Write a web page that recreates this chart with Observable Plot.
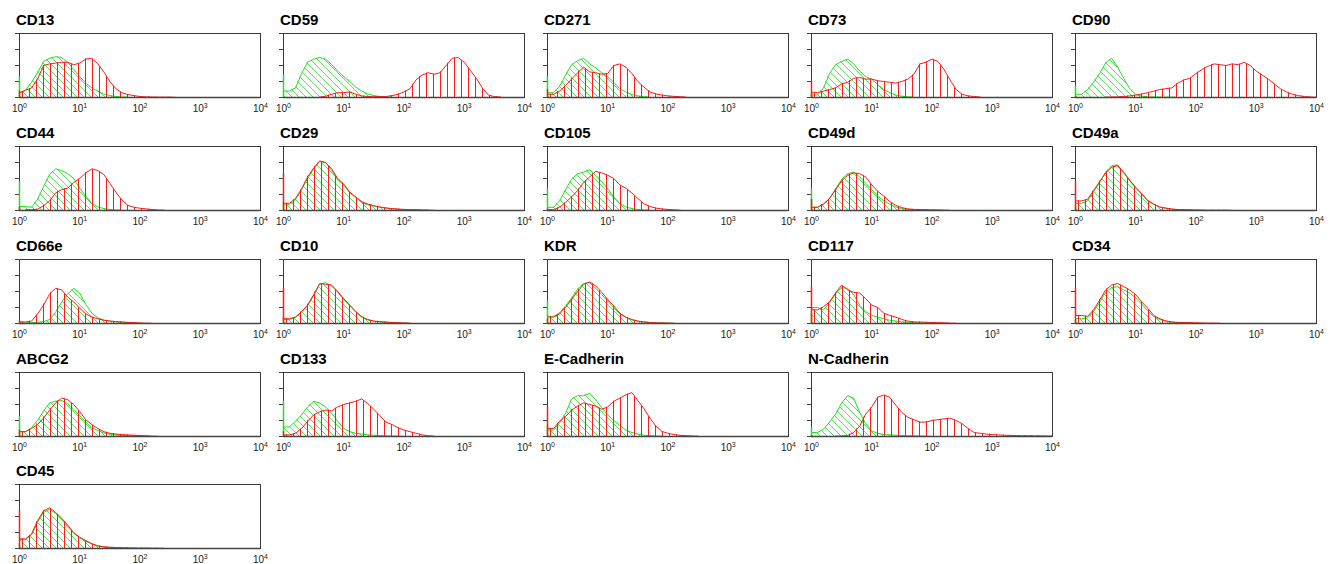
<!DOCTYPE html>
<html><head><meta charset="utf-8">
<script src="https://cdn.jsdelivr.net/npm/d3@7"></script>
<script src="https://cdn.jsdelivr.net/npm/@observablehq/plot@0.6"></script>
<style>
body{margin:0;background:#fff;}
#chart{position:relative;width:1338px;height:564px;overflow:hidden;font-family:"Liberation Sans",Arial,Helvetica,sans-serif;}
.title{position:absolute;font-weight:bold;font-size:15px;line-height:normal;color:#000;white-space:nowrap;}
.panel{position:absolute;}
</style></head><body><div id="chart"></div>
<script>
// Panel grid (categories, as laid out in the figure)
const grid = [
  ["CD13","CD59","CD271","CD73","CD90"],
  ["CD44","CD29","CD105","CD49d","CD49a"],
  ["CD66e","CD10","KDR","CD117","CD34"],
  ["ABCG2","CD133","E-Cadherin","N-Cadherin"],
  ["CD45"]
];
// log10 fluorescence bins (10^0 .. 10^4)
const logBins = [0,0.1,0.2,0.3,0.4,0.5,0.6,0.7,0.8,0.9,1,1.1,1.2,1.3,1.4,1.5,1.6,1.7,1.8,1.9,2,2.1,2.2,2.3,2.4,2.5,2.6,2.7,2.8,2.9,3,3.1,3.2,3.3,3.4,3.5,3.6,3.7,3.8,3.9,4];
const tickValues = [1,10,100,1000,10000];
const tickExponents = ["0","1","2","3","4"];

// counts at the first channel (left-edge spike), in y-tick units
const isotypeEdge = [1.3,1.4,1.3,0.2,0.7, 1.8,0.5,1.35,1.35,0.3, 0.05,0.4,1.4,0.6,0.2, 1.25,2.2,0.7,0.55, 0.3];
const stainedEdge = [0.4,0,0.5,1.0,0.05, 0.2,2.3,0.1,0.7,1.8, 0.2,2.2,0.3,2.3,2.2, 0.4,0.3,1.8,0.05, 2.35];

// isotype control (green) and antibody (red) histograms, y-tick units, per log bin
const iso_CD13 = [0.3,0.45,0.95,1.55,2.25,2.45,2.55,2.5,2.2,1.75,1.3,0.9,0.6,0.4,0.22,0.12,0.06,0.03,0.02];
const ab_CD13  = [0.3,0.45,0.6,1.15,2.0,2.1,2.15,2.2,2.2,2.05,2.15,2.4,2.45,2.1,1.6,1.0,0.55,0.3,0.18,0.12,0.06,0.04,0.03,0.02,0.02,0.02,0.01];
const iso_CD59 = [0.4,0.4,0.6,1.5,2.2,2.4,2.5,2.4,2.05,1.65,1.3,1.0,0.65,0.4,0.22,0.12,0.06,0.03,0.02];
const ab_CD59  = [0,0,0,0,0,0,0.02,0.08,0.2,0.3,0.3,0.35,0.2,0.1,0.06,0.05,0.06,0.06,0.12,0.2,0.35,0.55,1.1,1.4,1.55,1.45,1.55,2.0,2.45,2.5,2.2,1.7,1.2,0.6,0.15,0.06,0.03];
const iso_CD271 = [0.3,0.3,0.7,1.4,2.05,2.3,2.45,2.1,1.85,1.55,1.3,0.95,0.55,0.35,0.18,0.1,0.05,0.02];
const ab_CD271  = [0.2,0.2,0.4,0.75,1.15,1.55,1.9,1.6,1.55,1.45,1.5,2.0,2.1,1.9,1.5,1.0,0.65,0.35,0.22,0.15,0.1,0.07,0.05,0.02];
const iso_CD73 = [0.15,0.15,0.6,1.5,2.05,2.25,2.4,2.1,1.65,1.3,1.15,0.8,0.5,0.3,0.15,0.08,0.04,0.02];
const ab_CD73  = [0.3,0.3,0.4,0.5,0.6,0.85,0.95,1.2,1.25,1.15,1.15,1.05,1.0,0.95,0.9,1.0,1.15,1.45,2.1,2.2,2.4,2.25,1.75,1.1,0.5,0.2,0.1,0.06,0.03];
const iso_CD90 = [0.2,0.2,0.5,0.95,1.5,2.15,2.45,1.9,1.2,0.55,0.2,0.08,0.04,0.03,0.02,0.02,0.02,0.01];
const ab_CD90  = [0,0,0,0,0,0.02,0.03,0.04,0.06,0.1,0.15,0.22,0.3,0.4,0.5,0.55,0.6,0.9,1.1,1.2,1.5,1.75,1.95,2.1,2.05,2.0,2.1,2.05,2.2,2.0,1.65,1.4,1.15,0.85,0.55,0.35,0.2,0.12,0.06,0.03,0.02];
const iso_CD44 = [0.25,0.25,0.2,0.7,1.5,2.25,2.6,2.5,2.3,2.0,1.4,0.9,0.45,0.22,0.12,0.06,0.03,0.02];
const ab_CD44  = [0,0.05,0.05,0.08,0.3,0.6,1.1,1.3,1.4,1.75,2.0,2.35,2.6,2.5,2.25,1.7,1.15,0.65,0.32,0.2,0.14,0.1,0.06,0.03,0.02];
const iso_CD29 = [0.35,0.35,0.7,1.3,2.0,2.6,3.05,3.0,2.5,1.9,1.6,1.1,0.8,0.5,0.35,0.28,0.2,0.15,0.1,0.08,0.05,0.04,0.03,0.02];
const ab_CD29  = [0.45,0.45,0.75,1.35,2.1,2.65,3.1,3.0,2.6,2.0,1.65,1.15,0.85,0.55,0.4,0.3,0.22,0.16,0.12,0.09,0.07,0.05,0.05,0.04,0.03,0.01];
const iso_CD105 = [0.2,0.2,0.6,1.3,1.95,2.3,2.4,2.55,2.2,1.8,1.35,0.85,0.45,0.22,0.12,0.06,0.03,0.02];
const ab_CD105  = [0.05,0.05,0.2,0.5,0.85,1.25,1.75,2.1,2.45,2.35,2.2,2.0,1.6,1.4,1.1,0.75,0.42,0.25,0.15,0.1,0.07,0.04,0.02];
const iso_CD49d = [0.2,0.2,0.4,0.75,1.35,1.95,2.3,2.4,2.1,1.7,1.3,0.9,0.6,0.4,0.22,0.12,0.07,0.05,0.04,0.03,0.02,0.02,0.01];
const ab_CD49d  = [0.2,0.2,0.4,0.75,1.3,1.85,2.2,2.35,2.3,2.1,1.6,1.2,0.9,0.55,0.32,0.18,0.1,0.07,0.06,0.05,0.04,0.03,0.02,0.01];
const iso_CD49a = [0.45,0.45,0.6,1.15,1.75,2.4,2.8,2.85,2.35,1.85,1.4,1.0,0.6,0.38,0.2,0.14,0.08,0.05,0.04,0.03,0.02,0.01];
const ab_CD49a  = [0.6,0.6,0.7,1.25,1.8,2.35,2.7,2.8,2.4,1.9,1.45,1.05,0.62,0.4,0.22,0.15,0.09,0.06,0.05,0.04,0.03,0.03,0.02,0.02,0.02,0.02,0.01];
const iso_CD66e = [0.03,0.03,0.05,0.07,0.12,0.25,0.7,1.35,1.85,2.2,1.9,1.2,0.65,0.35,0.22,0.15,0.1,0.07,0.05,0.03,0.02];
const ab_CD66e  = [0.1,0.1,0.15,0.6,1.15,1.85,2.2,2.1,1.65,1.35,0.95,0.6,0.4,0.3,0.2,0.15,0.12,0.1,0.07,0.05,0.03,0.02,0.01];
const iso_CD10 = [0.25,0.25,0.4,0.7,1.1,1.75,2.45,2.55,2.35,1.95,1.5,1.1,0.7,0.38,0.22,0.14,0.1,0.07,0.05,0.04,0.02,0.01];
const ab_CD10  = [0.3,0.3,0.4,0.75,1.15,1.8,2.5,2.45,2.4,2.0,1.55,1.15,0.75,0.42,0.25,0.15,0.12,0.09,0.07,0.05,0.03,0.02];
const iso_KDR = [0.45,0.45,0.65,1.1,1.6,2.15,2.5,2.55,2.2,1.8,1.4,1.0,0.6,0.38,0.22,0.14,0.1,0.06,0.04,0.03,0.02,0.01];
const ab_KDR  = [0.4,0.4,0.6,1.0,1.5,2.0,2.45,2.6,2.35,1.95,1.5,1.1,0.65,0.4,0.25,0.15,0.1,0.06,0.04,0.03,0.02,0.01];
const iso_CD117 = [1.0,1.0,0.85,1.3,1.85,2.25,2.2,1.8,1.15,0.75,0.5,0.4,0.3,0.2,0.15,0.1,0.07,0.05,0.03,0.02,0.01];
const ab_CD117  = [0.85,0.85,1.05,1.35,1.9,2.4,2.1,1.95,1.9,1.55,1.15,1.0,0.65,0.5,0.4,0.25,0.15,0.1,0.09,0.08,0.06,0.05,0.04,0.02,0.01];
const iso_CD34 = [0.3,0.3,0.35,0.75,1.3,1.95,2.25,2.3,2.1,1.9,1.6,1.2,0.8,0.42,0.25,0.14,0.08,0.05,0.04,0.03,0.02,0.01];
const ab_CD34  = [0.5,0.5,0.45,0.85,1.45,2.1,2.4,2.5,2.3,2.1,1.8,1.35,0.95,0.5,0.3,0.16,0.1,0.07,0.06,0.05,0.04,0.03,0.02,0.02,0.01];
const iso_ABCG2 = [0.3,0.3,0.55,1.0,1.6,2.1,2.2,2.25,2.05,1.7,1.3,0.9,0.55,0.38,0.22,0.14,0.1,0.07,0.05,0.04,0.03,0.02,0.01];
const ab_ABCG2  = [0.3,0.3,0.5,0.75,1.15,1.65,2.1,2.4,2.3,2.0,1.55,1.05,0.75,0.5,0.3,0.2,0.15,0.12,0.1,0.08,0.06,0.04,0.02,0.01];
const iso_CD133 = [0.6,0.6,0.95,1.35,1.85,2.2,2.1,1.85,1.45,0.95,0.5,0.3,0.2,0.15,0.1,0.08,0.06,0.04,0.03,0.02,0.01];
const ab_CD133  = [0.1,0.1,0.2,0.5,0.95,1.35,1.55,1.65,1.6,1.85,2.0,2.1,2.2,2.35,2.05,1.7,1.3,0.9,0.75,0.55,0.4,0.3,0.2,0.1,0.05,0.02];
const iso_ECad = [0.4,0.4,0.85,1.45,2.35,2.55,2.55,2.7,2.3,1.8,1.35,1.0,0.7,0.4,0.25,0.15,0.08,0.05,0.03,0.02];
const ab_ECad  = [0.5,0.5,0.95,1.25,1.65,1.9,2.1,2.0,1.9,1.7,1.85,2.2,2.4,2.6,2.75,2.25,1.75,1.15,0.65,0.32,0.2,0.12,0.07,0.05,0.03,0.02];
const iso_NCad = [0.25,0.25,0.45,0.9,1.4,2.1,2.55,2.4,1.5,0.8,0.35,0.2,0.12,0.1,0.08,0.06,0.05,0.04,0.03,0.02,0.01];
const ab_NCad  = [0,0,0,0,0.02,0.03,0.06,0.25,0.65,1.4,1.85,2.45,2.6,2.45,1.95,1.5,1.2,1.05,0.9,0.9,1.0,1.05,1.1,1.15,1.0,0.8,0.5,0.25,0.2,0.15,0.12,0.1,0.08,0.07,0.06,0.05,0.05,0.04,0.04,0.03,0.03];
const iso_CD45 = [0.55,0.55,0.85,1.65,2.25,2.45,2.2,1.8,1.35,0.95,0.65,0.45,0.28,0.15,0.1,0.07,0.05,0.03,0.02,0.01];
const ab_CD45  = [0.6,0.6,0.9,1.75,2.35,2.55,2.25,1.9,1.45,1.0,0.7,0.5,0.3,0.17,0.1,0.08,0.06,0.05,0.04,0.03,0.03,0.03,0.02,0.02,0.01];

const isotypeSeries = [iso_CD13,iso_CD59,iso_CD271,iso_CD73,iso_CD90,iso_CD44,iso_CD29,iso_CD105,iso_CD49d,iso_CD49a,iso_CD66e,iso_CD10,iso_KDR,iso_CD117,iso_CD34,iso_ABCG2,iso_CD133,iso_ECad,iso_NCad,iso_CD45];
const stainedSeries = [ab_CD13,ab_CD59,ab_CD271,ab_CD73,ab_CD90,ab_CD44,ab_CD29,ab_CD105,ab_CD49d,ab_CD49a,ab_CD66e,ab_CD10,ab_KDR,ab_CD117,ab_CD34,ab_ABCG2,ab_CD133,ab_ECad,ab_NCad,ab_CD45];

// ---- layout & style ----
const colLeft = [19, 283, 547, 811, 1075];
const rowTop = [33, 146, 259, 372, 484];
const frameW = 241, frameH = 64;
const mL = 19, mR = 14, mT = 6, mB = 18;
const GREEN = "#1ee21e", GREEN_HATCH = "#52d852", RED = "#ff1a1a";

const chart = document.getElementById("chart");
const toRows = arr => arr.map((v, i) => ({x: Math.pow(10, logBins[i]), v: v > 0 ? v : NaN}));

let k = 0;
grid.forEach((row, r) => {
  row.forEach((name, c) => {
    const idx = k++;
    const iso = toRows(isotypeSeries[idx]);
    const ab = toRows(stainedSeries[idx]);
    const hatchId = "hatch" + idx, vId = "vlines" + idx;
    const svg = Plot.plot({
      width: mL + frameW + mR, height: mT + frameH + mB,
      marginLeft: mL, marginRight: mR, marginTop: mT, marginBottom: mB,
      style: {fontFamily: '"Liberation Sans", Arial, sans-serif', fontSize: "10px", color: "#222", background: "transparent", overflow: "visible"},
      x: {type: "log", domain: [1, 10000], axis: null},
      y: {domain: [0, 4], axis: null},
      marks: [
        Plot.areaY(iso, {x: "x", y: "v", fill: `url(#${hatchId})`}),
        Plot.lineY(iso, {x: "x", y: "v", stroke: GREEN, strokeWidth: 1}),
        Plot.areaY(ab, {x: "x", y: "v", fill: `url(#${vId})`}),
        Plot.lineY(ab, {x: "x", y: "v", stroke: RED, strokeWidth: 1}),
        Plot.frame({stroke: "#3a3a3a", strokeWidth: 1}),
        Plot.ruleY([0], {stroke: "#444", strokeWidth: 1.3}),
        Plot.ruleX([1], {y1: 0, y2: isotypeEdge[idx], stroke: GREEN, strokeWidth: 1.5}),
        Plot.ruleX([1], {y1: 0, y2: stainedEdge[idx], stroke: RED, strokeWidth: 1.5}),
        Plot.axisY({ticks: [0,1,2,3,4], tickSize: 4, tickFormat: () => "", label: null, stroke: "#444"}),
        Plot.axisX({ticks: tickValues, tickSize: 0, tickPadding: 7, tickFormat: () => "10", label: null})
      ]
    });
    const s = d3.select(svg);
    s.insert("defs", ":first-child").html(
      `<pattern id="${hatchId}" patternUnits="userSpaceOnUse" width="7" height="7">` +
      `<path d="M-1,-1L8,8M-1,6L1,8M6,-1L8,1" stroke="${GREEN_HATCH}" stroke-width="0.9" fill="none"/></pattern>` +
      `<pattern id="${vId}" patternUnits="userSpaceOnUse" x="${mL + 3}" y="0" width="7" height="10">` +
      `<line x1="0.5" y1="0" x2="0.5" y2="10" stroke="${RED}" stroke-width="1"/></pattern>`
    );
    s.selectAll('g[aria-label="x-axis tick label"] text').each(function(_, i) {
      const t = d3.select(this);
      t.text("10");
      t.append("tspan").attr("dy", "-0.45em").attr("font-size", "0.7em").text(tickExponents[i]);
    });
    const holder = document.createElement("div");
    holder.className = "panel";
    holder.style.left = (colLeft[c] - mL) + "px";
    holder.style.top = (rowTop[r] - mT) + "px";
    holder.style.width = (mL + frameW + mR) + "px";
    holder.appendChild(svg);
    chart.appendChild(holder);

    const title = document.createElement("div");
    title.className = "title";
    title.textContent = name;
    title.style.left = (colLeft[c] - 3) + "px";
    title.style.top = (rowTop[r] - 8 - 13.6) + "px";
    chart.appendChild(title);
  });
});
</script></body></html>
